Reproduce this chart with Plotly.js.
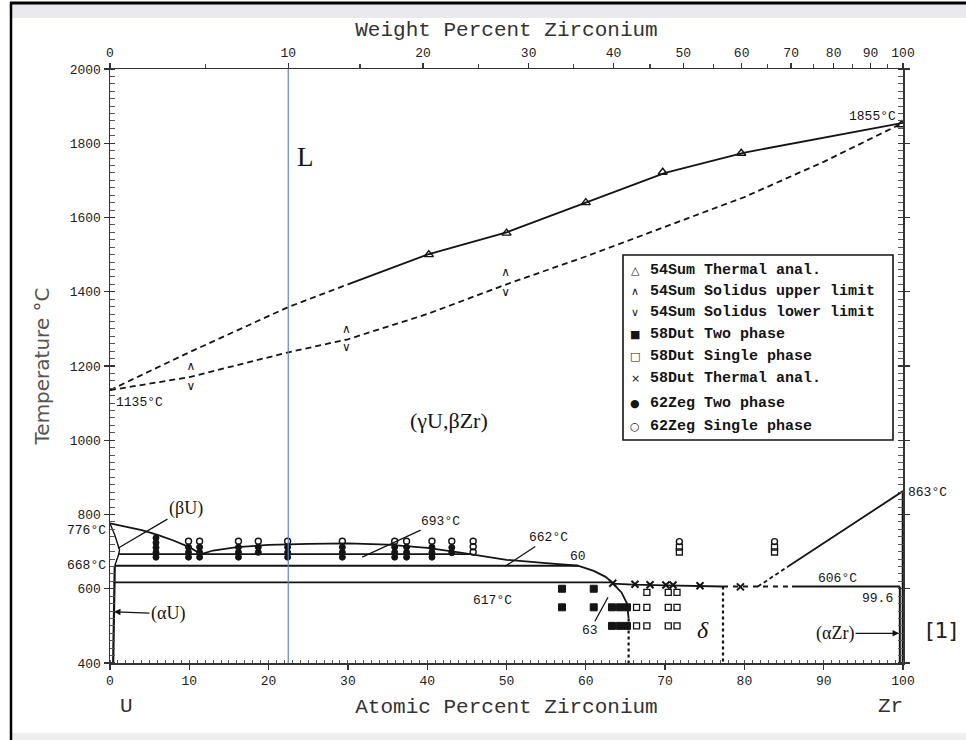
<!DOCTYPE html>
<html>
<head>
<meta charset="utf-8">
<script src="https://cdn.plot.ly/plotly-3.0.1.min.js"></script>
<style>html,body{margin:0;padding:0;background:#fff}#chart{width:966px;height:740px}</style>
</head>
<body>
<div id="chart"></div>
<script>
// ---------- data (atomic % Zr, temperature °C) ----------
const atTicks = [0,10,20,30,40,50,60,70,80,90,100];
const tempTicks = [400,600,800,1000,1200,1400,1600,1800,2000];
const wtTickLabels = [0,10,20,30,40,50,60,70,80,90,100];
const wtMinor = [5,15,25,35,45,55,65,75,85,95];
const blueLineWt = 10;

const liqDashX = [0,10,22.5,30];
const liqDashT = [1135,1237,1359,1420];
const liqSolidX = [30,40,50,60,70,80,90,100];
const liqSolidT = [1420,1500,1560,1640,1720,1775,1815,1855];
const solidusX = [0,10,22.5,30,40,50,60,70,80,90,100];
const solidusT = [1135,1170,1237,1272,1340,1420,1495,1575,1655,1750,1855];

const gamma1X = [0,2,4,6,8,10,11.5];
const gamma1T = [776,768,758,745,730,712,693];
const betaUX = [0,0.6,1.2,1.1,0.6];
const betaUT = [776,745,705,693,662];
const alphaUX = [0.6,0.4];
const alphaUT = [662,400];
const domeX = [11.5,13,16,20,25,30,35,40,44,47,50,55,59,61,62.5,63.3];
const domeT = [693,703,712,718,721,722,719,710,698,688,678,669,662,648,632,617];
const line693X = [1.1,45.5], line693T = [693,693];
const line662X = [0.6,59],   line662T = [662,662];
const line617X = [0.4,63.3], line617T = [617,617];
const deltaTopX = [63.3,66,70,74,77.3];
const deltaTopT = [614,611,609,607,606];
const eut606DashX = [77.3,86], eut606DashT = [606,606];
const eut606SolidX = [86,99.6], eut606SolidT = [606,606];
const deltaLeftX = [63.3,64.5,65.2,65.4];
const deltaLeftT = [617,590,560,520];
const deltaLeftDotX = [65.4,65.4], deltaLeftDotT = [520,400];
const deltaRightX = [77.3,77.3], deltaRightT = [606,400];
const betaZrDashX = [81.7,85.5], betaZrDashT = [606,660];
const betaZrSolidX = [85.5,100], betaZrSolidT = [660,863];
const alphaZrX = [99.6,99.6], alphaZrT = [606,400];
const zrEdgeX = [100,100], zrEdgeT = [863,400];

// 54Sum
const sumThermX = [40.2,50,60,69.7,79.6,99.8];
const sumThermT = [1500,1558,1640,1722,1773,1850];
const sumUpperX = [10.2,29.8,49.9];
const sumUpperT = [1196,1296,1450];
const sumLowerX = [10.2,29.8,49.9];
const sumLowerT = [1143,1248,1396];
// 58Dut
const dutTwoX = [57,61,57,61,63.3,64.3,65.2,63.3,64.3,65.2];
const dutTwoT = [600,600,550,550,550,550,550,500,500,500];
const dutSingleX = [67.7,70.4,71.5,66.4,67.7,70.4,71.5,66.4,67.7,70.4,71.5,71.8,71.8,83.8,83.8];
const dutSingleT = [590,590,590,550,550,550,550,500,500,500,500,712,699,712,699];
const dutThermX = [63.4,66.2,68.1,70.1,71,74.4,79.5];
const dutThermT = [615,612,611,610,610,608,605];
// 62Zeg
const zegTwoX = [5.8,5.8,5.8,5.8,5.8, 9.9,9.9,9.9, 11.3,11.3,11.3, 16.2,16.2,16.2, 18.7,18.7,
                 22.4,22.4,22.4, 29.3,29.3,29.3, 35.9,35.9,35.9, 37.4,37.4,37.4, 40.6,40.6,40.6, 43.1,43.1];
const zegTwoT = [737,724,711,698,685, 712,698,685, 712,698,685, 712,698,685, 712,698,
                 712,698,685, 712,698,685, 712,698,685, 712,698,685, 712,698,685, 711,697];
const zegSingleX = [9.9,11.3,16.2,18.7,22.4,29.3,35.9,37.4,40.6,43.1,45.8,45.8,45.8,71.8,83.8];
const zegSingleT = [728,728,728,728,728,728,728,728,728,728,728,713,699,727,727];

const legendSyms = ['△','∧','∨','■','□','×','●','○'];
const legendLabels = ['54Sum Thermal anal.','54Sum Solidus upper limit','54Sum Solidus lower limit',
  '58Dut Two phase','58Dut Single phase','58Dut Thermal anal.','62Zeg Two phase','62Zeg Single phase'];

// ---------- helpers ----------
const M_U = 238.03, M_ZR = 91.22;
function wtToAt(w){ const a = w/M_ZR, b = (100-w)/M_U; return 100*a/(a+b); }

const INK = '#141414';
const MONO = 'Liberation Mono, DejaVu Sans Mono, monospace';
const SERIF = 'Liberation Serif, DejaVu Serif, serif';

function ln(x,y,dash,w){ return {x:x,y:y,mode:'lines',type:'scatter',line:{color:INK,width:w||1.8,dash:dash||'solid'},hoverinfo:'skip',showlegend:false}; }
function mk(x,y,sym,size,lw){ return {x:x,y:y,mode:'markers',type:'scatter',marker:{symbol:sym,size:size,color:INK,line:{color:INK,width:lw||1.3}},hoverinfo:'skip',showlegend:false}; }
function tx(x,y,ch){ return {x:x,y:y,mode:'text',type:'scatter',text:x.map(()=>ch),textposition:'middle center',textfont:{family:'DejaVu Sans',size:12,color:INK},hoverinfo:'skip',showlegend:false}; }

const blueAt = wtToAt(blueLineWt);
const traces = [
  {x:[blueAt,blueAt],y:[tempTicks[0],tempTicks[tempTicks.length-1]],xaxis:'x2',yaxis:'y',mode:'lines',type:'scatter',line:{color:'#5b86c4',width:1.2},hoverinfo:'skip',showlegend:false},
  ln(liqDashX,liqDashT,'6px,4px'),
  ln(liqSolidX,liqSolidT),
  ln(solidusX,solidusT,'6px,4px'),
  ln(gamma1X,gamma1T),
  ln(betaUX,betaUT,'solid',1.4),
  ln(alphaUX,alphaUT,'solid',2.2),
  ln(domeX,domeT),
  ln(line693X,line693T),
  ln(line662X,line662T),
  ln(line617X,line617T),
  ln(deltaTopX,deltaTopT),
  ln(eut606DashX,eut606DashT,'5px,5px'),
  ln(eut606SolidX,eut606SolidT),
  ln(deltaLeftX,deltaLeftT),
  ln(deltaLeftDotX,deltaLeftDotT,'dot',2.2),
  ln(deltaRightX,deltaRightT,'dot',2.2),
  ln(betaZrDashX,betaZrDashT,'4px,3px'),
  ln(betaZrSolidX,betaZrSolidT),
  ln(alphaZrX,alphaZrT,'solid',2),
  ln(zrEdgeX,zrEdgeT,'solid',2.6),
  mk(sumThermX,sumThermT,'triangle-up-open',8,1.4),
  tx(sumUpperX,sumUpperT,'∧'),
  tx(sumLowerX,sumLowerT,'∨'),
  mk(dutTwoX,dutTwoT,'square',7,1),
  mk(dutSingleX,dutSingleT,'square-open',6,1.3),
  mk(dutThermX,dutThermT,'x-thin-open',7,2),
  mk(zegTwoX,zegTwoT,'circle',6,1),
  mk(zegSingleX,zegSingleT,'circle-open',6,1.4)
];

// ---------- annotations ----------
const ann = [];
function a(o){ ann.push(Object.assign({showarrow:false,yanchor:'middle',font:{family:MONO,size:13,color:INK}},o)); }
a({x:24.7,y:1763,text:'L',font:{family:SERIF,size:27,color:INK}});
a({x:42.8,y:1054,text:'(γU,βZr)',font:{family:SERIF,size:22,color:INK}});
a({x:0.5,y:1102,text:'1135°C',xanchor:'left',font:{family:MONO,size:13,color:INK}});
a({x:99.4,y:1871,text:'1855°C',xanchor:'right'});
a({x:-0.002,xref:'paper',y:757,text:'776°C',xanchor:'right'});
a({x:-0.002,xref:'paper',y:663,text:'668°C',xanchor:'right'});
a({x:1.004,xref:'paper',y:858,text:'863°C',xanchor:'left'});
a({x:1.0,y:709,text:'(βU)',showarrow:true,arrowhead:0,arrowwidth:1.3,arrowcolor:INK,ax:68,ay:-40,font:{family:SERIF,size:18,color:INK}});
a({x:0.5,y:538,text:'(αU)',showarrow:true,arrowhead:2,arrowsize:1,arrowwidth:1.3,arrowcolor:INK,ax:54,ay:2,font:{family:SERIF,size:18,color:INK}});
a({x:99.5,y:480,text:'(αZr)',showarrow:true,arrowhead:2,arrowsize:1,arrowwidth:1.3,arrowcolor:INK,ax:-64,ay:0,font:{family:SERIF,size:18,color:INK}});
a({x:31.8,y:685,text:'693°C',showarrow:true,arrowhead:0,arrowwidth:1.3,arrowcolor:INK,ax:78,ay:-36});
a({x:49.8,y:660,text:'662°C',showarrow:true,arrowhead:0,arrowwidth:1.3,arrowcolor:INK,ax:44,ay:-29});
a({x:59,y:686,text:'60'});
a({x:48.2,y:569,text:'617°C'});
a({x:91.8,y:628,text:'606°C'});
a({x:96.8,y:574,text:'99.6'});
a({x:62.8,y:577,text:'63',showarrow:true,arrowhead:0,arrowwidth:1.3,arrowcolor:INK,ax:-18,ay:33});
a({x:74.8,y:490,text:'<i>δ</i>',font:{family:SERIF,size:24,color:INK}});
a({x:0.01,xref:'paper',y:-0.073,yref:'paper',text:'U',font:{family:MONO,size:21,color:'#333'}});
a({x:1.003,xref:'paper',y:-0.073,yref:'paper',text:'Zr',font:{family:MONO,size:21,color:'#333'}});
a({x:1.026,xref:'paper',y:488,xanchor:'left',text:'[1]',font:{family:'DejaVu Sans, Liberation Sans, sans-serif',size:22,color:'#222'}});

// legend (custom box)
const legY = [270,291,312,334,356,378,403,426];
legendLabels.forEach((lab,i)=>{
  const py = (663-legY[i])/594;
  a({xref:'paper',yref:'paper',x:(635-110)/793,y:py,text:legendSyms[i],font:{family:'DejaVu Sans',size:11,color:INK}});
  a({xref:'paper',yref:'paper',x:(648-110)/793,y:py,xanchor:'left',text:'<b>'+lab+'</b>',font:{family:MONO,size:15,color:INK}});
});

const shapes = [
  {type:'rect',xref:'paper',yref:'paper',x0:(623-110)/793,x1:(893-110)/793,y0:(663-440)/594,y1:(663-255)/594,line:{color:INK,width:1.6},fillcolor:'#ffffff',layer:'below'},
  {type:'rect',xref:'paper',yref:'paper',x0:(12-110)/793,x1:(966-110)/793,y0:(663-18)/594,y1:(663-4)/594,line:{width:0},fillcolor:'#e9e9ee',layer:'below'},
  {type:'rect',xref:'paper',yref:'paper',x0:(12-110)/793,x1:(966-110)/793,y0:(663-742)/594,y1:(663-733)/594,line:{width:0},fillcolor:'#eeeeef',layer:'below'},
  {type:'line',xref:'paper',yref:'paper',x0:(11-110)/793,x1:(11-110)/793,y0:(663-742)/594,y1:(663-2)/594,line:{color:'#000',width:2.5}},
  {type:'line',xref:'paper',yref:'paper',x0:(10-110)/793,x1:(968-110)/793,y0:(663-3)/594,y1:(663-3)/594,line:{color:'#000',width:3}}
];

const axFont = {family:MONO,size:13,color:'#222'};
const layout = {
  width:966,height:740,
  margin:{l:110,r:63,t:69,b:77},
  paper_bgcolor:'#ffffff',plot_bgcolor:'rgba(0,0,0,0)',
  showlegend:false,
  xaxis:{range:[0,100],tickmode:'array',tickvals:atTicks,ticktext:atTicks.map(String),ticks:'outside',ticklen:5,tickwidth:1.4,tickcolor:'#333',
    showline:true,linecolor:'#333',linewidth:1.5,showgrid:false,zeroline:false,tickfont:axFont,
    minor:{tickmode:'linear',dtick:1,ticks:'inside',ticklen:3,tickcolor:'#555',tickwidth:1},
    title:{text:'Atomic Percent Zirconium',font:{family:MONO,size:21,color:'#333'},standoff:10}},
  xaxis2:{range:[0,100],overlaying:'x',side:'top',tickmode:'array',tickvals:wtTickLabels.map(wtToAt),ticktext:wtTickLabels.map(String),
    ticks:'outside',ticklen:5,tickwidth:1.4,tickcolor:'#333',showline:true,linecolor:'#333',linewidth:1.5,showgrid:false,zeroline:false,tickfont:axFont,
    minor:{tickmode:'array',tickvals:wtMinor.map(wtToAt),ticks:'outside',ticklen:4,tickcolor:'#444',tickwidth:1.2},
    title:{text:'Weight Percent Zirconium',font:{family:MONO,size:21,color:'#333'},standoff:4}},
  yaxis:{range:[400,2000],tickmode:'array',tickvals:tempTicks,ticktext:tempTicks.map(String),ticks:'outside',ticklen:5,tickwidth:1.4,tickcolor:'#333',
    showline:true,linecolor:'#333',linewidth:1.5,mirror:'allticks',showgrid:false,zeroline:false,tickfont:axFont,
    minor:{tickmode:'linear',dtick:20,ticks:'inside',ticklen:3,tickcolor:'#555',tickwidth:1},
    title:{text:'Temperature °C',font:{family:'DejaVu Sans, sans-serif',size:20,color:'#555'},standoff:14}},
  annotations:ann,
  shapes:shapes
};

Plotly.newPlot('chart',traces,layout,{staticPlot:true,displayModeBar:false});
</script>
</body>
</html>
